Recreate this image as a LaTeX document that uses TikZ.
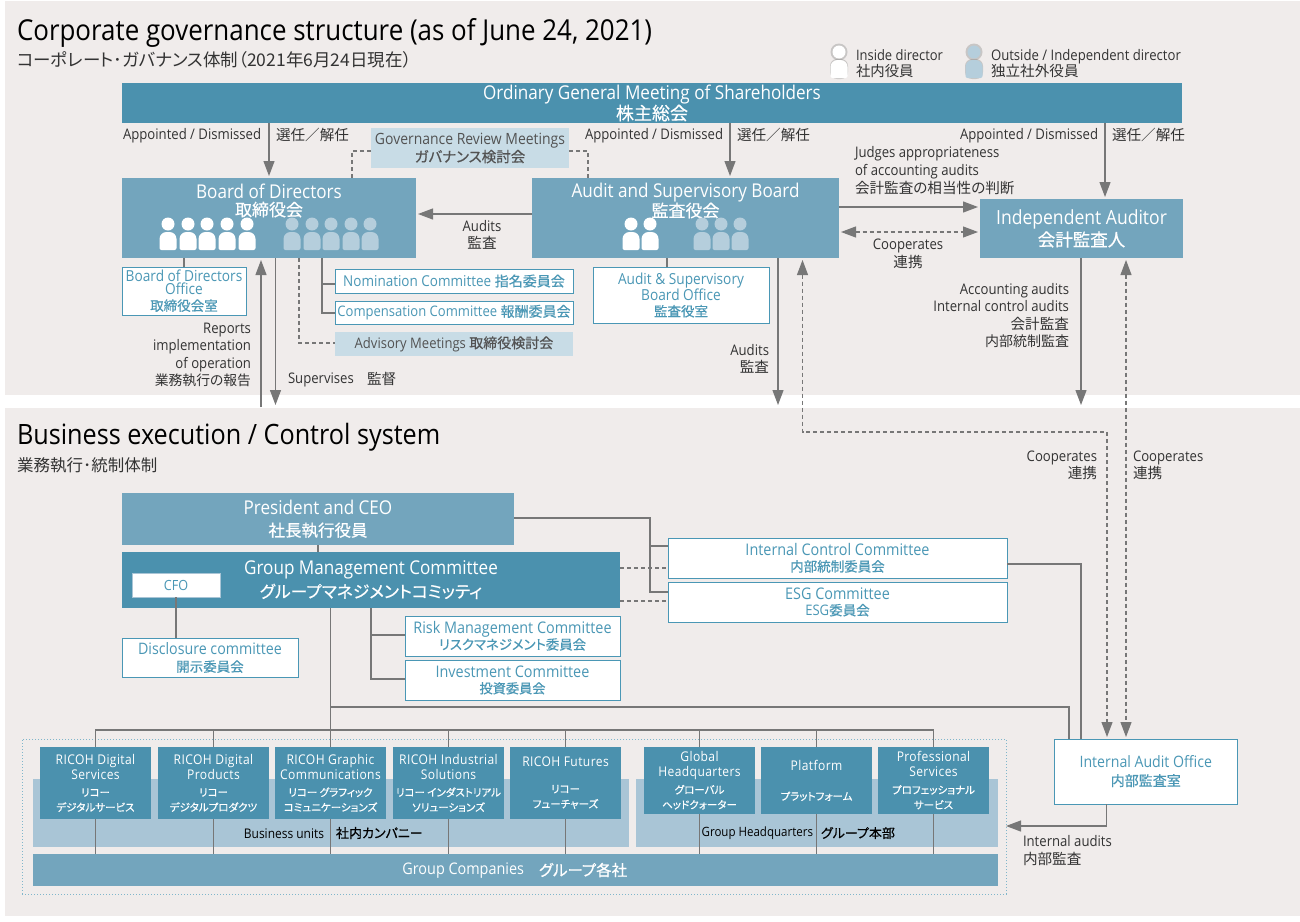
\documentclass[tikz,border=0pt]{standalone}
\usepackage{fontspec}
\setmainfont[FakeStretch=0.9]{Open Sans}
\newfontfamily\cjk[RawFeature={+palt}]{Noto Sans CJK JP}
\newfontfamily\cjkb[RawFeature={+palt},FakeBold=0.5]{Noto Sans CJK JP}
\usetikzlibrary{arrows.meta}
\definecolor{cPanel}{HTML}{F0ECEB}
\definecolor{cDark}{HTML}{4B91AE}
\definecolor{cMid}{HTML}{73A5BD}
\definecolor{cBand}{HTML}{A9C5D6}
\definecolor{cLight}{HTML}{C8DCE6}
\definecolor{cOut}{HTML}{B5CEDC}
\definecolor{cBlue}{HTML}{4A97B5}
\definecolor{cLine}{HTML}{777777}
\definecolor{cText}{HTML}{333333}
\newcommand\J[1]{{\cjk #1}}
\newcommand\fs[2]{\fontsize{#1}{#2}\selectfont}
\newcommand\JB[2]{{\fs{#1}{#1}\cjkb #2}}
\newcommand\ls{\addfontfeature{LetterSpace=3}}
\newcommand\bx[7]{\node[#6,minimum width={#4pt-#2pt},minimum height={#5pt-#3pt}] (#1) at ({(#2+#4)/2},{(#3+#5)/2}) {#7};}
\newcommand\person[3]{% x, head y, colour
  \fill[#3] (#1,#2) circle (6.5);
  \fill[#3,rounded corners=7pt] ({#1-8.5},{#2+26}) -- ({#1-8.5},{#2+8}) -- ({#1+8.5},{#2+8}) [rounded corners=2pt] -- ({#1+8.5},{#2+26}) -- cycle;}
\tikzset{
  bxb/.style={inner sep=0pt,outer sep=0pt,align=center},
  dk/.style={bxb,fill=cDark,text=white},
  md/.style={bxb,fill=cMid,text=white},
  lg/.style={bxb,fill=cLight,text=cText!85},
  wb/.style={bxb,fill=white,draw=cBlue,line width=1pt,text=cBlue},
  lblL/.style={inner sep=0pt,outer sep=0pt,anchor=west,align=left,text=cText,font=\fs{14.6}{17.6}},
  lblR/.style={inner sep=0pt,outer sep=0pt,anchor=east,align=right,text=cText,font=\fs{14.6}{17.6}},
  lblC/.style={inner sep=0pt,outer sep=0pt,anchor=center,align=center,text=cText,font=\fs{14.6}{17.6}},
  conn/.style={draw=cLine,line width=1.2pt},
  arr/.style={conn,-{Triangle[length=15pt,width=11pt]},shorten >=2pt},
  dsh/.style={draw=cLine,line width=1.1pt,dash pattern=on 4pt off 3pt},
  tipb/.style={{Triangle[length=15pt,width=11pt]}-{Triangle[length=15pt,width=11pt]},shorten >=2pt,shorten <=2pt}
}
\begin{document}
\begin{tikzpicture}[x=1pt,y=-1pt]
\useasboundingbox (0,0) rectangle (1300,921);
\fill[white] (0,0) rectangle (1300,921);
\fill[cPanel] (5,1) rectangle (1300,395);
\fill[cPanel] (5,408) rectangle (1300,916);
% titles
\node[lblL,text=black,font=\fs{28.8}{32}] (title1) at (17,33) {Corporate governance structure (as of June 24, 2021)};
\node[lblL,font=\fs{17.5}{20}] (title1j) at (17,60) {\J{コーポレート･ガバナンス体制（2021年6月24日現在）}};
\node[lblL,text=black,font=\fs{28}{32}] (title2) at (17,437) {Business execution / Control system};
\node[lblL,font=\fs{16.5}{18}] (title2j) at (17,465) {\J{業務執行･統制体制}};
% legend
\fill[gray,opacity=.35] (839,52) circle (8.5);
\fill[gray,opacity=.35,rounded corners=7pt] (830,79) -- (830,59) -- (848,59) -- (848,79) -- cycle;
\fill[gray,opacity=.35] (974,52) circle (8.5);
\fill[gray,opacity=.35,rounded corners=7pt] (965,79) -- (965,59) -- (983,59) -- (983,79) -- cycle;
\person{839}{52}{white}
\person{974}{52}{cOut}
\node[lblL,font=\fs{14.4}{16}] (leg1) at (856,64) {Inside director\\\J{社内役員}};
\node[lblL,font=\fs{14.6}{16}] (leg2) at (991,64) {Outside / Independent director\\\J{独立社外役員}};
% top boxes
\bx{meet}{122}{83}{1182}{123}{dk,font=\fs{19}{17}}{Ordinary General Meeting of Shareholders\\\JB{18}{株主総会}}
\bx{gov}{371}{128}{569}{168}{lg,font=\fs{15.5}{18}}{Governance Review Meetings\\\JB{14.5}{ガバナンス検討会}}
\bx{bod}{122}{178}{416}{258}{md}{}
\node[bxb,text=white,font=\fs{19}{18}] (bodt) at (269,200.5) {Board of Directors\\\JB{17}{取締役会}};
\bx{ab}{532}{178}{839}{258}{md}{}
\node[bxb,text=white,font=\fs{19}{18}] (abt) at (685.5,200.5) {Audit and Supervisory Board\\\JB{17}{監査役会}};
\bx{ia}{980}{199}{1183}{258}{md,font=\fs{19.5}{22}}{Independent Auditor\\\JB{17.5}{会計監査人}}
\foreach \x in {168,188,207,227,247} {\person{\x}{224}{white}}
\foreach \x in {292,312,331,351,370} {\person{\x}{224}{cOut}}
\foreach \x in {631,650} {\person{\x}{224}{white}}
\foreach \x in {702,721,740} {\person{\x}{224}{cOut}}
\bx{bodo}{122}{267}{246}{315}{wb,font=\fs{15.2}{13}}{Board of Directors\\Office\\[3pt]\JB{13.5}{取締役会室}}
\bx{nom}{335}{269}{573}{293}{wb,font=\fs{15}{17}}{Nomination Committee \JB{14}{指名委員会}}
\bx{comp}{335}{301}{573}{324}{wb,font=\fs{14.5}{17}}{Compensation Committee \JB{14}{報酬委員会}}
\bx{adv}{335}{332}{573}{356}{lg,font=\fs{14.5}{17}}{Advisory Meetings \JB{14}{取締役検討会}}
\bx{abo}{593}{267}{769}{323}{wb,font=\fs{15.2}{13}}{Audit \& Supervisory\\Board Office\\[3pt]\JB{13.5}{監査役室}}
% labels top
\node[lblL] (a1) at (123,136) {Appointed / Dismissed};
\node[lblL] (a1j) at (276,135) {\J{選任／解任}};
\node[lblL] (a2) at (585,136) {Appointed / Dismissed};
\node[lblL] (a2j) at (737,135) {\J{選任／解任}};
\node[lblL] (a3) at (960,136) {Appointed / Dismissed};
\node[lblL] (a3j) at (1112,135) {\J{選任／解任}};
\node[lblL] (judg) at (855,170.5) {Judges appropriateness\\of accounting audits\\\J{会計監査の相当性の判断}};
\node[lblC] (aud) at (482,235) {Audits\\\J{監査}};
\node[lblC] (coop) at (908,254) {Cooperates\\\J{連携}};
\node[lblR] (rep) at (251,355) {Reports\\implementation\\of operation\\{\fs{13.8}{17}\J{業務執行の報告}}};
\node[lblL] (sup) at (288,380) {Supervises};
\node[lblL] (supj) at (367,379) {\J{監督}};
\node[lblR] (aud2) at (769,359) {Audits\\\J{監査}};
\node[lblR] (acc) at (1069,315.5) {Accounting audits\\Internal control audits\\\J{会計監査}\\{\fs{14}{17}\J{内部統制監査}}};
\node[lblR] (coop2) at (1097,465.5) {Cooperates\\\J{連携}};
\node[lblL] (coop3) at (1133,465.5) {Cooperates\\\J{連携}};
\node[lblL] (intaud) at (1023,850.5) {Internal audits\\\J{内部監査}};
% bottom boxes
\bx{pres}{122}{493}{514}{545}{md,font=\fs{19}{22}}{President and CEO\\\JB{16.5}{社長執行役員}}
\bx{gmc}{122}{552}{620}{608}{dk,font=\fs{19}{23}}{Group Management Committee\\\JB{16.8}{グループマネジメントコミッティ}}
\bx{cfo}{132}{573}{220}{597}{bxb,fill=white,draw=cBand,line width=1pt,text=cBlue,font=\fs{14}{17}}{CFO}
\bx{disc}{122}{638}{298}{677}{wb,font=\fs{15.8}{17.5}}{Disclosure committee\\\JB{13.5}{開示委員会}}
\bx{risk}{405}{616}{620}{656}{wb,font=\fs{16}{16}}{Risk Management Committee\\\JB{13.4}{リスクマネジメント委員会}}
\bx{inv}{405}{660}{620}{700}{wb,font=\fs{16}{16}}{Investment Committee\\\JB{13.2}{投資委員会}}
\bx{icc}{668}{538}{1007}{578}{wb,font=\fs{16}{16}}{Internal Control Committee\\\JB{13.5}{内部統制委員会}}
\bx{esg}{668}{582}{1007}{622}{wb,font=\fs{16}{16}}{ESG Committee\\{\fs{14.5}{16}ESG}\JB{13.5}{委員会}}
\bx{iao}{1054.5}{739}{1237}{804}{wb,font=\fs{15.7}{18}}{Internal Audit Office\\\JB{14}{内部監査室}}
% group area
\bx{grp}{22}{739}{1006}{894}{bxb,draw=cBlue!70,line width=1pt,dotted}{}
\bx{band1}{33}{779}{629}{847}{bxb,fill=cBand}{}
\bx{band2}{636}{779}{998}{847}{bxb,fill=cBand}{}
\bx{gc}{33}{854}{998}{886}{md}{}
\node[lblR,text=black,font=\fs{13.3}{14}] (bul) at (324,833.5) {Business units};
\node[lblL,text=black,font=\fs{13}{14}] (bulj) at (336,833) {\JB{13}{社内カンパニー}};
\node[lblR,text=black,font=\fs{12.8}{14}] (hql) at (813,833.5) {Group Headquarters};
\node[lblL,text=black,font=\fs{13}{14}] (hqlj) at (821,833) {\JB{13}{グループ本部}};
\node[lblR,text=white,font=\fs{16}{17}] (gcl) at (524,871) {Group Companies};
\node[lblL,text=white,font=\fs{15.5}{17}] (gclj) at (539,870) {\JB{15.5}{グループ各社}};
\newcommand\en[1]{{\fs{13.4}{15}\ls #1}}
\newcommand\jj[1]{{\fs{10.5}{14}\cjkb #1}}
\bx{bu1}{40}{747}{151}{819}{dk,font=\fs{12}{15}}{\en{RICOH Digital}\\\en{Services}\\[2pt]\jj{リコー}\\\jj{デジタルサービス}}
\bx{bu2}{158}{747}{269}{819}{dk,font=\fs{12}{15}}{\en{RICOH Digital}\\\en{Products}\\[2pt]\jj{リコー}\\\jj{デジタルプロダクツ}}
\bx{bu3}{275}{747}{386}{819}{dk,font=\fs{12}{15}}{\en{RICOH Graphic}\\\en{Communications}\\[2pt]\jj{リコー グラフィック}\\\jj{コミュニケーションズ}}
\bx{bu4}{393}{747}{504}{819}{dk,font=\fs{12}{15}}{\en{RICOH Industrial}\\\en{Solutions}\\[2pt]\jj{リコー インダストリアル}\\\jj{ソリューションズ}}
\bx{bu5}{510}{747}{621}{819}{dk,font=\fs{12}{15}}{\en{RICOH Futures}\\[11pt]\jj{リコー}\\\jj{フューチャーズ}}
\bx{hq1}{644}{747}{755}{814}{dk,font=\fs{12}{15}}{\en{Global}\\\en{Headquarters}\\[2pt]\jj{グローバル}\\\jj{ヘッドクォーター}}
\bx{hq2}{761}{747}{872}{814}{dk,font=\fs{12}{15}}{\en{Platform}\\[15pt]\jj{プラットフォーム}}
\bx{hq3}{878}{747}{989}{814}{dk,font=\fs{12}{15}}{\en{Professional}\\\en{Services}\\[2pt]\jj{プロフェッショナル}\\\jj{サービス}}
% guides
\coordinate (xA) at (730,0);
\coordinate (xB) at (1105,0);
\coordinate (xG1) at (352,151);
\coordinate (xG2) at (588,151);
\coordinate (yAud) at (600,214);
\coordinate (yJud) at (900,207);
\coordinate (yCo) at (900,232);
\coordinate (xO) at (667,0);
\coordinate (xR) at (261,407);
\coordinate (xS) at (275.5,407);
\coordinate (xT) at (299,343);
\coordinate (xU1) at (322,284);
\coordinate (xU2) at (322,313);
\coordinate (xV) at (778,407);
\coordinate (xW) at (1081,407);
\coordinate (xD) at (802.5,432);
\coordinate (xE) at (1107,432);
\coordinate (xF) at (1126,0);
\coordinate (yPr) at (650,518);
\coordinate (yPr2) at (650,546);
\coordinate (yPr3) at (650,592);
\coordinate (yD1) at (640,568);
\coordinate (yD2) at (640,601);
\coordinate (yR) at (371,635);
\coordinate (yR2) at (371,679);
\coordinate (yIc) at (1081,564);
\coordinate (yI) at (1069,707);
\coordinate (yH) at (0,730);
\coordinate (xK) at (1106.5,826);
% connectors top
\draw[arr] (meet.south -| bod.north) -- (bod.north);
\draw[arr] (meet.south -| xA) -- (ab.north -| xA);
\draw[arr] (meet.south -| xB) -- (ia.north -| xB);
\draw[dsh] (gov.west |- xG1) -- (xG1) -- (bod.north -| xG1);
\draw[dsh] (gov.east |- xG2) -- (xG2) -- (ab.north -| xG2);
\draw[arr] (ab.west |- yAud) -- (bod.east |- yAud);
\draw[arr] (ab.east |- yJud) -- (ia.west |- yJud);
\draw[dsh,tipb] (ab.east |- yCo) -- (ia.west |- yCo);
\draw[conn] (bodo.north) -- (bod.south -| bodo.north);
\draw[conn] (abo.north -| xO) -- (ab.south -| xO);
\draw[arr] (xR) -- (bod.south -| xR);
\draw[arr] (bod.south -| xS) -- (xS);
\draw[dsh] (bod.south -| xT) -- (xT) -- (adv.west |- xT);
\draw[conn] (bod.south -| xU2) -- (xU2) -- (comp.west |- xU2);
\draw[conn] (xU1) -- (nom.west |- xU1);
\draw[arr] (ab.south -| xV) -- (xV);
\draw[arr] (ia.south -| xW) -- (xW);
\draw[dsh,tipb] (ab.south -| xD) -- (xD) -- (xE) -- (iao.north -| xE);
\draw[dsh,tipb] (ia.south -| xF) -- (iao.north -| xF);
% connectors bottom
\draw[conn] (pres.south) -- (gmc.north -| pres.south);
\draw[conn] (cfo.south) -- (disc.north -| cfo.south);
\draw[conn] (pres.east |- yPr) -- (yPr) -- (yPr3) -- (esg.west |- yPr3);
\draw[conn] (yPr2) -- (icc.west |- yPr2);
\draw[dsh] (gmc.east |- yD1) -- (icc.west |- yD1);
\draw[dsh] (gmc.east |- yD2) -- (esg.west |- yD2);
\draw[conn] (gmc.south -| yR) -- (yR2) -- (inv.west |- yR2);
\draw[conn] (yR) -- (risk.west |- yR);
\draw[conn] (gmc.south -| bu3.north) -- (bu3.north);
\draw[conn] (bu3.north |- yI) -- (yI) -- (iao.north -| yI);
\draw[conn] (icc.east |- yIc) -- (yIc) -- (iao.north -| yIc);
\draw[conn] (bu1.north) -- (bu1.north |- yH) -- (hq3.north |- yH) -- (hq3.north);
\foreach \n in {bu2,bu4,bu5,hq1,hq2} {\draw[conn] (\n.north) -- (\n.north |- yH);}
\foreach \n in {bu1,bu2,bu3,bu4,bu5,hq1,hq2,hq3} {\draw[conn] (\n.south) -- (gc.north -| \n.south);}
\draw[arr,shorten >=0pt] (iao.south -| xK) -- (xK) -- (grp.east |- xK);
\end{tikzpicture}
\end{document}
